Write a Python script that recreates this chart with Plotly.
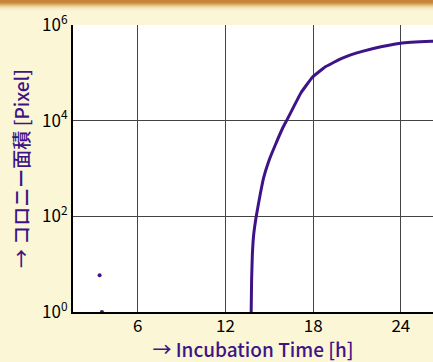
import plotly.graph_objects as go

# Growth curve (colony area vs incubation time)
time_h = [13.76, 13.79, 13.84, 13.93, 14.11, 14.37, 14.61, 14.95, 15.41, 15.91,
          16.21, 16.70, 17.16, 17.95, 18.86, 20.0, 21.36, 22.72, 23.98, 26.11, 26.4]
area_px = [1, 4.7, 15.6, 41, 102, 280, 635, 1390, 3100, 6950,
           10400, 20400, 38000, 81000, 135000, 204000, 281000, 355000, 417000, 457000, 460000]

# isolated early points
dot_time = [3.39, 3.55]
dot_area = [5.9, 1.0]

x_ticks = [6, 12, 18, 24]
y_ticks = [1, 100, 10000, 1000000]
y_tick_text = ["10<sup>0</sup>", "10<sup>2</sup>", "10<sup>4</sup>", "10<sup>6</sup>"]

PURPLE = "#3d1488"
CREAM = "#fbf6d6"

fig = go.Figure()
fig.add_trace(go.Scatter(x=time_h, y=area_px, mode="lines",
                         line=dict(color=PURPLE, width=3, shape="spline", smoothing=0.3),
                         showlegend=False, cliponaxis=True))
fig.add_trace(go.Scatter(x=dot_time, y=dot_area, mode="markers",
                         marker=dict(color=PURPLE, size=4),
                         showlegend=False, cliponaxis=True))

# top orange band (gradient)
band = ["#c4843a", "#c4843a", "#c88b3e", "#cf9a4c", "#d9ad66", "#e3c283", "#ecd49e",
        "#f2e1b4", "#f6eac4", "#f8f0cd", "#faf3d2"]
shapes = []
for i, c in enumerate(band):
    shapes.append(dict(type="rect", xref="paper", yref="paper",
                       x0=-1, x1=2, y0=1 + (25 - i - 1) / 287, y1=1 + (25 - i) / 287,
                       fillcolor=c, line=dict(width=0), layer="below"))

fig.update_layout(
    width=433, height=362,
    margin=dict(l=73, r=0, t=25, b=50),
    paper_bgcolor=CREAM, plot_bgcolor="white",
    font=dict(family="Noto Sans CJK JP", color="black", size=16),
    shapes=shapes,
    xaxis=dict(range=[1.57, 26.2], tickvals=x_ticks, ticks="", showgrid=True,
               gridcolor="#444", gridwidth=1, showline=True, linecolor="black", linewidth=2,
               mirror=False, zeroline=False, automargin=False,
               tickfont=dict(size=17, color="black"), ticklabelstandoff=-2,
               title=dict(text="→ Incubation Time [h]", font=dict(size=19, color=PURPLE, weight=500),
                          standoff=7)),
    yaxis=dict(type="log", range=[0, 6], tickvals=y_ticks, ticktext=y_tick_text,
               ticks="", showgrid=True, gridcolor="#444", gridwidth=1,
               showline=True, linecolor="black", linewidth=2, mirror=True, zeroline=False,
               automargin=False,
               tickfont=dict(size=17, color="black"),
               title=dict(text="→ コロニー面積 [Pixel]", font=dict(size=19, color=PURPLE, weight=500),
                          standoff=7)),
)

fig.write_html("out.html", config={"displayModeBar": False},
               post_script="document.body.style.margin='0';")
